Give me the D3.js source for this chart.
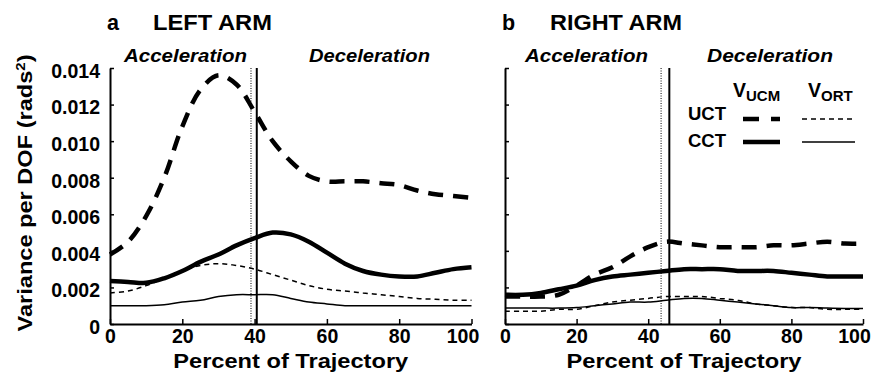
<!DOCTYPE html>
<html>
<head>
<meta charset="utf-8">
<script src="https://cdn.jsdelivr.net/npm/d3@7"></script>
<style>
  body { margin: 0; background: #fff; }
  svg { font-family: "Liberation Sans", Arial, sans-serif; font-weight: bold; }
</style>
</head>
<body>
<svg id="chart" width="875" height="382"></svg>
<script>
// percent of trajectory at which every series was read
const pct = [0, 5, 10, 15, 20, 25, 30, 35, 40, 45, 50, 55, 60, 65, 70, 75, 80, 85, 90, 95, 100];

// left arm
const leftUcmUct = [0.0038, 0.0045, 0.0059, 0.0080, 0.0108, 0.0128, 0.0136, 0.0131, 0.0116, 0.0100, 0.0089, 0.0081, 0.0078, 0.0078, 0.0078, 0.0077, 0.0076, 0.0073, 0.0071, 0.0070, 0.0069];
const leftUcmCct = [0.00235, 0.0023, 0.00225, 0.0025, 0.0029, 0.0034, 0.0038, 0.0043, 0.0047, 0.0050, 0.0049, 0.0045, 0.0039, 0.0033, 0.0029, 0.0027, 0.0026, 0.0026, 0.0028, 0.0030, 0.0031];
const leftOrtUct = [0.0017, 0.0018, 0.0021, 0.0025, 0.0029, 0.0032, 0.0033, 0.0032, 0.0030, 0.0027, 0.0024, 0.0021, 0.0019, 0.0018, 0.0017, 0.0016, 0.0015, 0.0014, 0.00135, 0.0013, 0.0013];
const leftOrtCct = [0.0010, 0.0010, 0.0010, 0.00105, 0.0012, 0.0013, 0.0015, 0.0016, 0.0016, 0.0016, 0.0014, 0.0012, 0.0011, 0.0010, 0.0010, 0.0010, 0.0010, 0.0010, 0.0010, 0.0010, 0.0010];

// right arm
const rightUcmUct = [0.0015, 0.0015, 0.0015, 0.0016, 0.0021, 0.0027, 0.0031, 0.0037, 0.0042, 0.0045, 0.0044, 0.0043, 0.0042, 0.0042, 0.0042, 0.0043, 0.0043, 0.0044, 0.0045, 0.0044, 0.0044];
const rightUcmCct = [0.0016, 0.0016, 0.0017, 0.0019, 0.0021, 0.0024, 0.0026, 0.0027, 0.0028, 0.0029, 0.0030, 0.0030, 0.0030, 0.0029, 0.0029, 0.0029, 0.0028, 0.0027, 0.0026, 0.0026, 0.0026];
const rightOrtUct = [0.0007, 0.0007, 0.0007, 0.0008, 0.0008, 0.0010, 0.0012, 0.0013, 0.0014, 0.0015, 0.0015, 0.0015, 0.0014, 0.0013, 0.0011, 0.0010, 0.0009, 0.0009, 0.0008, 0.0008, 0.0008];
const rightOrtCct = [0.00087, 0.00087, 0.00087, 0.00087, 0.0009, 0.0010, 0.0011, 0.0012, 0.0012, 0.0013, 0.0014, 0.0014, 0.0013, 0.0012, 0.0011, 0.0010, 0.0009, 0.0009, 0.00087, 0.00085, 0.00085];

// end of acceleration phase: [dotted, solid]
const leftBoundaries = [39, 40.6];
const rightBoundaries = [43.6, 45.9];

const xTicks = [0, 20, 40, 60, 80, 100];
const yTicks = [0, 0.002, 0.004, 0.006, 0.008, 0.010, 0.012, 0.014];
const yTickLabels = ['0', '0.002', '0.004', '0.006', '0.008', '0.010', '0.012', '0.014'];

const styles = {
  ucmUct: {width: 4.5, dash: '15,10'},
  ortUct: {width: 1.5, dash: '5,4'},
  ucmCct: {width: 4.5, dash: null},
  ortCct: {width: 1.5, dash: null}
};

const svg = d3.select('#chart');
const plotTop = 68, plotBottom = 324;

const yScale = d3.scaleLinear().domain([0, 0.014]).range([plotBottom, plotTop]);

function drawPanel(left, right, series, boundaries, showLabels) {
  const xScale = d3.scaleLinear().domain([0, 100]).range([left, right]);
  const g = svg.append('g');

  const line = d3.line()
    .x((d, i) => xScale(pct[i]))
    .y(d => yScale(d))
    .curve(d3.curveCatmullRom.alpha(0.5));

  boundaries.forEach((b, i) => {
    g.append('line')
      .attr('x1', xScale(b)).attr('x2', xScale(b))
      .attr('y1', plotTop).attr('y2', plotBottom)
      .attr('stroke', '#000')
      .attr('stroke-width', i === 0 ? 1 : 2)
      .attr('stroke-dasharray', i === 0 ? '1,1.5' : null);
  });

  Object.keys(series).forEach(key => {
    g.append('path')
      .attr('d', line(series[key]))
      .attr('fill', 'none')
      .attr('stroke', '#000')
      .attr('stroke-width', styles[key].width)
      .attr('stroke-dasharray', styles[key].dash);
  });

  const xAxis = g.append('g')
    .attr('transform', `translate(0, ${plotBottom})`)
    .call(d3.axisBottom(xScale).tickValues(xTicks).tickSizeInner(-5).tickSizeOuter(0).tickPadding(5));
  xAxis.selectAll('text')
    .attr('font-size', 19.5).attr('font-family', null).attr('font-weight', 'bold')
    .attr('dx', d => d === 100 ? -9 : 0);

  const yAxis = g.append('g')
    .attr('transform', `translate(${left}, 0)`)
    .call(d3.axisLeft(yScale).tickValues(yTicks).tickSizeInner(-4).tickSizeOuter(0).tickPadding(10)
      .tickFormat((d, i) => showLabels ? yTickLabels[i] : ''));
  yAxis.selectAll('text')
    .attr('font-size', 19.5).attr('font-family', null).attr('font-weight', 'bold')
    .attr('dy', '0.48em');

  [xAxis, yAxis].forEach(a => {
    a.select('.domain').attr('stroke-width', 2);
    a.selectAll('.tick line').attr('stroke-width', 1.5);
  });

  g.append('text')
    .attr('x', (left + right) / 2).attr('y', 368)
    .attr('text-anchor', 'middle')
    .attr('font-size', 20.5)
    .attr('textLength', 235).attr('lengthAdjust', 'spacingAndGlyphs')
    .text('Percent of Trajectory');
}

drawPanel(110, 471.5,
  {ucmUct: leftUcmUct, ortUct: leftOrtUct, ucmCct: leftUcmCct, ortCct: leftOrtCct},
  leftBoundaries, true);
drawPanel(505, 863,
  {ucmUct: rightUcmUct, ortUct: rightOrtUct, ucmCct: rightUcmCct, ortCct: rightOrtCct},
  rightBoundaries, false);

// panel titles
function title(letterX, x, text, len) {
  svg.append('text').attr('x', letterX).attr('y', 30).attr('font-size', 21.5).text(text[0]);
  svg.append('text').attr('x', x).attr('y', 30).attr('font-size', 21.5)
    .attr('textLength', len).attr('lengthAdjust', 'spacingAndGlyphs').text(text[1]);
}
title(107, 153, ['a', 'LEFT ARM'], 119);
title(502, 550, ['b', 'RIGHT ARM'], 132);

// phase labels
function phase(x, text, len) {
  svg.append('text').attr('x', x).attr('y', 62)
    .attr('font-size', 17.5).attr('font-style', 'italic')
    .attr('textLength', len).attr('lengthAdjust', 'spacingAndGlyphs')
    .text(text);
}
phase(124, 'Acceleration', 123);
phase(309, 'Deceleration', 121);
phase(525, 'Acceleration', 123);
phase(707, 'Deceleration', 126);

// y axis title
svg.append('text')
  .attr('transform', 'translate(32, 193) rotate(-90)')
  .attr('text-anchor', 'middle')
  .attr('font-size', 20.5)
  .attr('textLength', 277).attr('lengthAdjust', 'spacingAndGlyphs')
  .html('Variance per DOF (rads<tspan baseline-shift="super" font-size="13">2</tspan>)');

// legend
const legend = svg.append('g');
[['UCM', 733], ['ORT', 808]].forEach(([sub, x]) => {
  const t = legend.append('text').attr('x', x).attr('y', 97).attr('font-size', 19.5);
  t.append('tspan').text('V');
  t.append('tspan').attr('font-size', 15).attr('dy', 4).text(sub);
});
const legendRows = [
  {label: 'UCT', y: 119, base: 120, keys: ['ucmUct', 'ortUct']},
  {label: 'CCT', y: 142, base: 147, keys: ['ucmCct', 'ortCct']}
];
const legendCols = [[743, 780], [802, 855]];
legendRows.forEach(row => {
  legend.append('text').attr('x', 688).attr('y', row.base).attr('font-size', 18.5).text(row.label);
  row.keys.forEach((k, i) => {
    legend.append('line')
      .attr('x1', legendCols[i][0]).attr('x2', legendCols[i][1])
      .attr('y1', row.y).attr('y2', row.y)
      .attr('stroke', '#000')
      .attr('stroke-width', styles[k].width)
      .attr('stroke-dasharray', k === 'ucmUct' ? '16,12' : styles[k].dash);
  });
});
</script>
</body>
</html>
